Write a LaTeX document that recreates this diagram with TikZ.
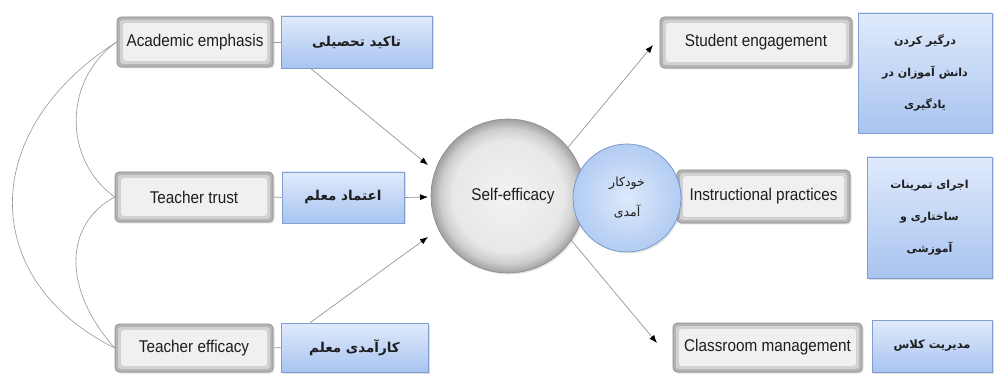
\documentclass[tikz,border=0pt]{standalone}
\usepackage{fontspec}
\setmainfont{Liberation Sans}[FakeStretch=0.9]
\newfontfamily\arabicfont[Script=Arabic]{DejaVu Sans}
\TeXXeTstate=1
\usetikzlibrary{shadows,arrows.meta}
\definecolor{boxedge}{RGB}{140,140,140}
\definecolor{boxouter}{RGB}{180,180,180}
\definecolor{boxmid}{RGB}{210,210,210}
\definecolor{boxinner}{RGB}{240,240,240}
\definecolor{blueedge}{RGB}{128,158,208}
\definecolor{bluetop}{RGB}{224,234,251}
\definecolor{bluebot}{RGB}{168,196,240}
\definecolor{textc}{RGB}{30,30,30}
\definecolor{linec}{RGB}{150,150,150}
\definecolor{ballin}{RGB}{242,242,242}
\definecolor{ballmid}{RGB}{232,232,232}
\definecolor{ballrim}{RGB}{205,205,205}
\definecolor{ballout}{RGB}{160,160,160}
\definecolor{bcin}{RGB}{222,233,251}
\definecolor{bcout}{RGB}{178,204,243}
\definecolor{bcedge}{RGB}{112,146,201}
\pgfdeclareradialshading{ballgray}{\pgfpoint{0bp}{0bp}}{color(0bp)=(ballin); color(18bp)=(ballmid); color(22bp)=(ballrim); color(25bp)=(ballout); color(50bp)=(ballout)}
\pgfdeclareradialshading{ballblue}{\pgfpoint{0bp}{0bp}}{color(0bp)=(bcin); color(25bp)=(bcout); color(50bp)=(bcout)}
\tikzset{
  graybox/.style={draw=boxedge, line width=0.6pt, rounded corners=4pt, fill=boxouter,
    text=textc, font=\fontsize{17}{20}\selectfont, inner sep=2pt,
    drop shadow={opacity=0.25, shadow xshift=1.5pt, shadow yshift=-1.5pt},
    path picture={
      \fill[boxmid, rounded corners=3pt] ([shift={(3pt,3pt)}]path picture bounding box.south west) rectangle ([shift={(-3pt,-3pt)}]path picture bounding box.north east);
      \fill[boxinner, rounded corners=3pt] ([shift={(6pt,6pt)}]path picture bounding box.south west) rectangle ([shift={(-6pt,-6pt)}]path picture bounding box.north east);
    }},
  bluebox/.style={draw=blueedge, line width=0.6pt, top color=bluetop, bottom color=bluebot,
    text=textc, align=center, inner sep=2pt,
    drop shadow={opacity=0.25, shadow xshift=1.5pt, shadow yshift=-1.5pt}},
  fafont/.style={font=\arabicfont\bfseries\fontsize{#1}{32}\selectfont},
  conn/.style={draw=linec, line width=0.7pt},
  arr/.style={conn, -{Latex[length=8pt,width=6pt,color=black]}},
  cov/.style={draw=linec, line width=0.6pt}
}
\begin{document}
\begin{tikzpicture}[x=1pt,y=-1pt]
\useasboundingbox (0,0) rectangle (996,374);
\fill[white] (0,0) rectangle (996,374);
% left gray boxes
\node[graybox, minimum width=156, minimum height=50] (ae) at (195,42) {Academic emphasis};
\node[graybox, minimum width=158, minimum height=50] (tt) at (194,197) {Teacher trust};
\node[graybox, minimum width=158, minimum height=48] (te) at (194,348) {Teacher efficacy};
% left blue boxes
\node[bluebox, fafont=13.5, minimum width=151, minimum height=52] (aeb) at (356.5,42) {\beginR تاکید تحصیلی\endR};
\node[bluebox, fafont=13.5, minimum width=122, minimum height=51] (ttb) at (343,197.5) {\beginR اعتماد معلم\endR};
\node[bluebox, fafont=13.5, minimum width=147, minimum height=49] (teb) at (354.5,347.5) {\beginR کارآمدی معلم\endR};
% short links
\draw[conn] (ae.east) -- (aeb.west);
\draw[conn] (tt.east) -- (ttb.west);
\draw[conn] (te.east) -- (teb.west);
% covariance curves
\draw[cov] (ae.west) .. controls (63,80) and (63,160) .. (tt.west);
\draw[cov] (tt.west) .. controls (63,225) and (63,290) .. (te.west);
\draw[cov] (ae.west) .. controls (-22,130) and (-22,280) .. (te.west);
% central circle
\node[circle, draw=boxedge, line width=0.6pt, shading=ballgray, minimum size=154, inner sep=0pt,
  text=textc, font=\fontsize{17}{20}\selectfont,
  drop shadow={opacity=0.2, shadow xshift=1.5pt, shadow yshift=-1.5pt}] (se) at (508,196) {\hspace{10pt}Self-efficacy};
% arrows into the circle
\coordinate (a1) at (428,165);
\coordinate (a2) at (428,197);
\coordinate (a3) at (428,237);
\draw[arr] ([xshift=-46pt]aeb.south) -- (a1);
\draw[arr] (ttb.east) -- (a2);
\draw[arr] ([xshift=-44.5pt]teb.north) -- (a3);
% right gray boxes
\node[graybox, minimum width=192, minimum height=51] (sg) at (756,42.5) {Student engagement};
\node[graybox, minimum width=173, minimum height=53] (ip) at (763.5,196.5) {Instructional practices};
\node[graybox, minimum width=189, minimum height=49] (cm) at (767.5,347.5) {Classroom management};
% right blue boxes
\node[bluebox, fafont=11, minimum width=134, minimum height=120] (sgb) at (925,73)
  {\beginR درگیر کردن\endR\\\beginR دانش آموزان در\endR\\\beginR یادگیری\endR};
\node[bluebox, fafont=11, minimum width=125, minimum height=121] (ipb) at (929.5,217.5)
  {\beginR اجرای تمرینات\endR\\\beginR ساختاری و\endR\\\beginR آموزشی\endR};
\node[bluebox, fafont=11.5, minimum width=120, minimum height=52] (cmb) at (932,346)
  {\beginR مدیریت کلاس\endR};
% arrows out of the circle
\coordinate (b1) at (653,45);
\coordinate (b3) at (657,343);
\draw[arr] (se.39) -- (b1);
\draw[arr] (se.-35) -- (b3);
% blue circle
\node[circle, draw=bcedge, line width=0.7pt, shading=ballblue, minimum size=108, inner sep=0pt,
  text=textc, align=center, font=\arabicfont\fontsize{12.5}{30}\selectfont,
  drop shadow={opacity=0.2, shadow xshift=1.5pt, shadow yshift=-1.5pt}] (bc) at (627,198)
  {\beginR خودکار\endR\\\beginR آمدی\endR};
\end{tikzpicture}
\end{document}
